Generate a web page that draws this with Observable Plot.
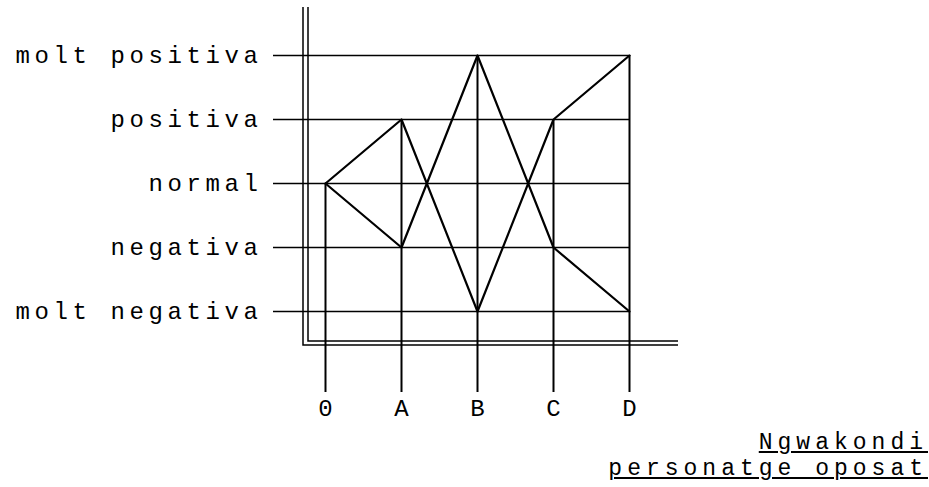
<!DOCTYPE html>
<html>
<head>
<meta charset="utf-8">
<script src="https://cdn.jsdelivr.net/npm/d3@7"></script>
<script src="https://cdn.jsdelivr.net/npm/@observablehq/plot@0.6"></script>
<style>
  html, body { margin: 0; padding: 0; background: #fff; }
  #chart { width: 929px; }
  .cap {
    font-family: "Courier New", "Liberation Mono", monospace;
    font-size: 23px;
    letter-spacing: 5px;
    text-align: right;
    padding-right: 1px;
    color: #000;
  }
  .cap div { line-height: 26px; height: 26px; }
  .cap span { text-decoration: underline; text-decoration-thickness: 1.5px; text-underline-offset: 2px; }
</style>
</head>
<body>
<div id="chart"></div>
<div class="cap"><div><span>Ngwakondi</span></div><div><span>personatge oposat</span></div></div>
<script>
// categories
const steps = ["0", "A", "B", "C", "D"];
const levels = ["molt positiva", "positiva", "normal", "negativa", "molt negativa"];
// series (level reached at each step)
const seriesNames = ["Ngwakondi", "personatge oposat"];
const ngwakondi = ["normal", "positiva", "molt negativa", "positiva", "molt positiva"];
const oposat = ["normal", "negativa", "molt positiva", "negativa", "molt negativa"];

const rows = [];
[ngwakondi, oposat].forEach((vals, k) => {
  vals.forEach((lv, i) => rows.push({who: seriesNames[k], step: steps[i], level: lv}));
});
// topmost level reached at each step (where vertical guide starts)
const topAt = steps.map((s, i) => {
  const idx = Math.min(levels.indexOf(ngwakondi[i]), levels.indexOf(oposat[i]));
  return {step: s, top: levels[idx], bottom: levels[levels.length - 1]};
});
const gridRows = levels.map(lv => ({level: lv, from: steps[0], to: steps[steps.length - 1]}));

const W = 929, H = 430;

function frameL(index, scales, values, dimensions) {
  const {marginLeft, marginTop, marginBottom, marginRight, width, height} = dimensions;
  const x0 = marginLeft, y0 = height - marginBottom, x1 = width - marginRight;
  const g = d3.create("svg:g").attr("fill", "none").attr("stroke", "#000").attr("stroke-width", 1.5);
  g.append("path").attr("d", `M${x0},${marginTop}V${y0}H${x1}`);
  g.append("path").attr("d", `M${x0 + 5},${marginTop}V${y0 - 4}H${x1}`);
  return g.node();
}

const chart = Plot.plot({
  width: W,
  height: H,
  marginLeft: 303,
  marginRight: 251,
  marginTop: 7,
  marginBottom: 85,
  style: {
    fontFamily: '"Courier New", "Liberation Mono", monospace',
    fontSize: "24px",
    letterSpacing: "4.6px",
    color: "#000",
    background: "#fff",
    overflow: "visible"
  },
  x: {type: "point", domain: steps, range: [324, 630], padding: 0, label: null},
  y: {type: "point", domain: levels, range: [55, 311], padding: 0, label: null},
  marks: [
    frameL,
    Plot.ruleY(gridRows, {y: "level", x1: "from", x2: "to", insetLeft: -52, stroke: "#000", strokeWidth: 1.4}),
    Plot.ruleX(topAt, {x: "step", y1: "top", y2: "bottom", insetBottom: -81, stroke: "#000", strokeWidth: 2}),
    Plot.line(rows, {x: "step", y: "level", z: "who", stroke: "#000", strokeWidth: 2.2}),
    Plot.axisY({anchor: "left", tickSize: 0, tickPadding: 41, fontSize: 24}),
    Plot.axisX({anchor: "bottom", tickSize: 0, tickPadding: 53, fontSize: 24, dx: 2.3})
  ]
});
document.getElementById("chart").appendChild(chart);
</script>
</body>
</html>
